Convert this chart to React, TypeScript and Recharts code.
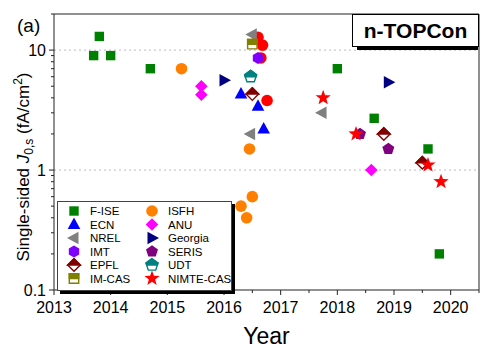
import React from "react";
import { ReferenceLine, Scatter, ScatterChart, XAxis, YAxis } from "recharts";

// tick values
const yearTicks = [2013, 2014, 2015, 2016, 2017, 2018, 2019, 2020];
const yearMinorTicks = [2013.5, 2014.5, 2015.5, 2016.5, 2017.5, 2018.5, 2019.5, 2020.5];
const j0Ticks = [0.1, 1, 10];
const j0MinorTicks = [0.2, 0.3, 0.4, 0.5, 0.6, 0.7, 0.8, 0.9, 2, 3, 4, 5, 6, 7, 8, 9, 20];

// single-sided J0,s per group (year, fA/cm2)
const fise = [
  { year: 2013.7, j0: 9 },
  { year: 2013.8, j0: 13 },
  { year: 2014.0, j0: 9 },
  { year: 2014.7, j0: 7 },
  { year: 2018.0, j0: 7 },
  { year: 2018.65, j0: 2.7 },
  { year: 2019.6, j0: 1.5 },
  { year: 2019.8, j0: 0.2 },
];
const ecn = [
  { year: 2016.3, j0: 4.3 },
  { year: 2016.6, j0: 3.4 },
  { year: 2016.7, j0: 2.2 },
];
const nrel = [
  { year: 2016.5, j0: 13.5 },
  { year: 2016.47, j0: 2.0 },
  { year: 2017.73, j0: 3.0 },
];
const imt = [{ year: 2016.6, j0: 8.6 }];
const epfl = [
  { year: 2016.5, j0: 4.3 },
  { year: 2018.82, j0: 2.0 },
  { year: 2019.5, j0: 1.15 },
];
const imcas = [{ year: 2016.5, j0: 11.2 }];
const isfh = [
  { year: 2015.25, j0: 7 },
  { year: 2016.3, j0: 0.5 },
  { year: 2016.4, j0: 0.4 },
  { year: 2016.45, j0: 1.5 },
  { year: 2016.5, j0: 0.6 },
];
const anu = [
  { year: 2015.6, j0: 5.0 },
  { year: 2015.6, j0: 4.25 },
  { year: 2018.6, j0: 1.0 },
];
const georgia = [
  { year: 2016.0, j0: 5.6 },
  { year: 2018.9, j0: 5.4 },
];
const seris = [
  { year: 2018.4, j0: 2.0 },
  { year: 2018.9, j0: 1.5 },
];
const udt = [{ year: 2016.47, j0: 6.0 }];
const nimte = [
  { year: 2017.75, j0: 4.0 },
  { year: 2018.33, j0: 2.0 },
  { year: 2019.6, j0: 1.1 },
  { year: 2019.83, j0: 0.8 },
];
// red dots without a legend entry
const redDots = [
  { year: 2016.6, j0: 12.8 },
  { year: 2016.68, j0: 11 },
  { year: 2016.65, j0: 8.6 },
  { year: 2016.76, j0: 3.8 },
];

type Kind = "square" | "circle" | "up" | "left" | "right" | "hexagon" | "diamond" | "pentagon" | "star";

interface Group {
  name: string;
  data: { year: number; j0: number }[];
  color: string;
  kind: Kind;
  half?: boolean;
}

const groups: Group[] = [
  { name: "F-ISE", data: fise, color: "#008000", kind: "square" },
  { name: "ECN", data: ecn, color: "#0000ff", kind: "up" },
  { name: "NREL", data: nrel, color: "#808080", kind: "left" },
  { name: "IMT", data: imt, color: "#8000ff", kind: "hexagon" },
  { name: "EPFL", data: epfl, color: "#800000", kind: "diamond", half: true },
  { name: "IM-CAS", data: imcas, color: "#808000", kind: "square", half: true },
  { name: "ISFH", data: isfh, color: "#ff8000", kind: "circle" },
  { name: "ANU", data: anu, color: "#ff00ff", kind: "diamond" },
  { name: "Georgia", data: georgia, color: "#000080", kind: "right" },
  { name: "SERIS", data: seris, color: "#800080", kind: "pentagon" },
  { name: "UDT", data: udt, color: "#008080", kind: "pentagon", half: true },
  { name: "NIMTE-CAS", data: nimte, color: "#ff0000", kind: "star" },
];

const FONT = "Arial, 'Liberation Sans', sans-serif";
const AXIS = "#222";

function regular(n: number, r: number, start = -90): number[][] {
  const pts: number[][] = [];
  for (let i = 0; i < n; i++) {
    const a = ((start + (360 / n) * i) * Math.PI) / 180;
    pts.push([r * Math.cos(a), r * Math.sin(a)]);
  }
  return pts;
}

function shapePoints(kind: Kind): number[][] {
  switch (kind) {
    case "square":
      return [[-4.7, -4.7], [4.7, -4.7], [4.7, 4.7], [-4.7, 4.7]];
    case "up":
      return [[0, -7], [6.3, 4.5], [-6.3, 4.5]];
    case "left":
      return [[-7, 0], [4.5, -6.3], [4.5, 6.3]];
    case "right":
      return [[7, 0], [-4.5, -6.3], [-4.5, 6.3]];
    case "hexagon":
      return regular(6, 6);
    case "diamond":
      return [[0, -6.3], [6.3, 0], [0, 6.3], [-6.3, 0]];
    case "pentagon":
      return regular(5, 6.3);
    case "star": {
      const pts: number[][] = [];
      for (let i = 0; i < 10; i++) {
        const r = i % 2 === 0 ? 8 : 3.3;
        const a = ((-90 + 36 * i) * Math.PI) / 180;
        pts.push([r * Math.cos(a), r * Math.sin(a)]);
      }
      return pts;
    }
    default:
      return [];
  }
}

// keep the part of a polygon above its centre
function topHalf(pts: number[][]): number[][] {
  const out: number[][] = [];
  for (let i = 0; i < pts.length; i++) {
    const a = pts[i];
    const b = pts[(i + 1) % pts.length];
    const aIn = a[1] <= 0;
    const bIn = b[1] <= 0;
    if (aIn) out.push(a);
    if (aIn !== bIn) {
      const t = a[1] / (a[1] - b[1]);
      out.push([a[0] + t * (b[0] - a[0]), 0]);
    }
  }
  return out;
}

function toStr(pts: number[][], cx: number, cy: number) {
  return pts.map((p) => `${cx + p[0]},${cy + p[1]}`).join(" ");
}

function Marker({ cx, cy, kind, color, half }: { cx: number; cy: number; kind: Kind; color: string; half?: boolean }) {
  if (cx == null || cy == null) return null;
  if (kind === "circle") return <circle cx={cx} cy={cy} r={5.8} fill={color} />;
  const pts = shapePoints(kind);
  if (half) {
    return (
      <g>
        <polygon points={toStr(pts, cx, cy)} fill="#fff" stroke={color} strokeWidth={1.4} />
        <polygon points={toStr(topHalf(pts), cx, cy)} fill={color} stroke={color} strokeWidth={1.4} />
      </g>
    );
  }
  return <polygon points={toStr(pts, cx, cy)} fill={color} />;
}

function XTick(props: any) {
  const { x, y, payload } = props;
  const major = yearTicks.includes(payload.value);
  return (
    <g>
      <line x1={x} x2={x} y1={y} y2={y + (major ? 5 : 3)} stroke={AXIS} />
      {major && (
        <text x={x} y={y + 23} textAnchor="middle" fontSize={16} fill="#000">
          {payload.value}
        </text>
      )}
    </g>
  );
}

function YTick(props: any) {
  const { x, y, payload } = props;
  const major = j0Ticks.includes(payload.value);
  return (
    <g>
      <line x1={x} x2={x - (major ? 5 : 3)} y1={y} y2={y} stroke={AXIS} />
      {major && (
        <text x={x - 8} y={y} dy="0.35em" textAnchor="end" fontSize={16} fill="#000">
          {payload.value}
        </text>
      )}
    </g>
  );
}

function YTitle(props: any) {
  const vb = props.viewBox || { x: 0, y: 14, width: 54, height: 276 };
  const cx = vb.x + 29;
  const cy = vb.y + vb.height / 2 + 15;
  return (
    <g>
      <text x={vb.x + 17} y={32} fontSize={19} fill="#000">
        (a)
      </text>
      <text x={cx} y={cy} transform={`rotate(-90, ${cx}, ${cy})`} textAnchor="middle" fontSize={17} fill="#000">
        Single-sided <tspan fontStyle="italic">J</tspan>
        <tspan dy={4} fontSize={12}>0,s</tspan>
        <tspan dy={-4}> (fA/cm</tspan>
        <tspan dy={-7} fontSize={12}>2</tspan>
        <tspan dy={7}>)</tspan>
      </text>
    </g>
  );
}

function XTitle(props: any) {
  const vb = props.viewBox || { x: 54, y: 290, width: 425, height: 59 };
  return (
    <text x={vb.x + vb.width / 2} y={344} textAnchor="middle" fontSize={23} fill="#000">
      Year
    </text>
  );
}

function LegendBox() {
  const rows = 6;
  return (
    <div
      style={{
        position: "absolute",
        left: 57,
        top: 201,
        width: 173,
        height: 88,
        border: "1px solid #444",
        background: "#fff",
        boxShadow: "3px 3px 0 #000",
      }}
    >
      <svg width={173} height={88} style={{ display: "block" }}>
        {groups.map((g, i) => {
          const col = Math.floor(i / rows);
          const row = i % rows;
          const mx = col === 0 ? 16 : 94;
          const my = 9 + row * 13.5;
          return (
            <g key={g.name}>
              <Marker cx={mx} cy={my} kind={g.kind} color={g.color} half={g.half} />
              <text x={mx + 16} y={my} dy="0.36em" fontSize={11.5} fill="#000">
                {g.name}
              </text>
            </g>
          );
        })}
      </svg>
    </div>
  );
}

export default function App() {
  return (
    <div style={{ position: "absolute", left: 0, top: 0, width: 500, height: 349, fontFamily: FONT, background: "#fff" }}>
      <ScatterChart width={500} height={349} margin={{ top: 14, right: 21, bottom: 0, left: 0 }}>
        <XAxis
          dataKey="year"
          type="number"
          domain={[2013, 2020.5]}
          allowDataOverflow
          ticks={[...yearTicks, ...yearMinorTicks]}
          interval={0}
          tickSize={0}
          tickMargin={0}
          tickLine={false}
          tick={<XTick />}
          height={59}
          axisLine={{ stroke: AXIS }}
          label={{ content: <XTitle /> }}
        />
        <YAxis
          dataKey="j0"
          type="number"
          scale="log"
          domain={[0.1, 20]}
          allowDataOverflow
          ticks={[...j0Ticks, ...j0MinorTicks]}
          interval={0}
          tickSize={0}
          tickMargin={0}
          tickLine={false}
          tick={<YTick />}
          width={54}
          axisLine={{ stroke: AXIS }}
          label={{ content: <YTitle /> }}
        />
        <ReferenceLine y={10} stroke="#bbb" strokeDasharray="2 3" />
        <ReferenceLine y={1} stroke="#bbb" strokeDasharray="2 3" />
        {/* frame: top and right edges */}
        <ReferenceLine y={20} stroke={AXIS} ifOverflow="visible" />
        <ReferenceLine x={2020.5} stroke={AXIS} ifOverflow="visible" />
        <Scatter
          name="unlabeled"
          data={redDots}
          isAnimationActive={false}
          shape={(p: any) => <Marker cx={p.cx} cy={p.cy} kind="circle" color="#ff0000" />}
        />
        {groups.map((g) => (
          <Scatter
            key={g.name}
            name={g.name}
            data={g.data}
            isAnimationActive={false}
            shape={(p: any) => <Marker cx={p.cx} cy={p.cy} kind={g.kind} color={g.color} half={g.half} />}
          />
        ))}
      </ScatterChart>
      <LegendBox />
      <div
        style={{
          position: "absolute",
          left: 352,
          top: 14,
          width: 125,
          height: 31,
          border: "1px solid #000",
          background: "#fff",
          display: "flex",
          alignItems: "center",
          justifyContent: "center",
          fontWeight: "bold",
          fontSize: 21,
        }}
      >
        n-TOPCon
      </div>
      <div style={{ position: "absolute", left: 357, top: 47, width: 121, height: 3, background: "#000" }} />
    </div>
  );
}
